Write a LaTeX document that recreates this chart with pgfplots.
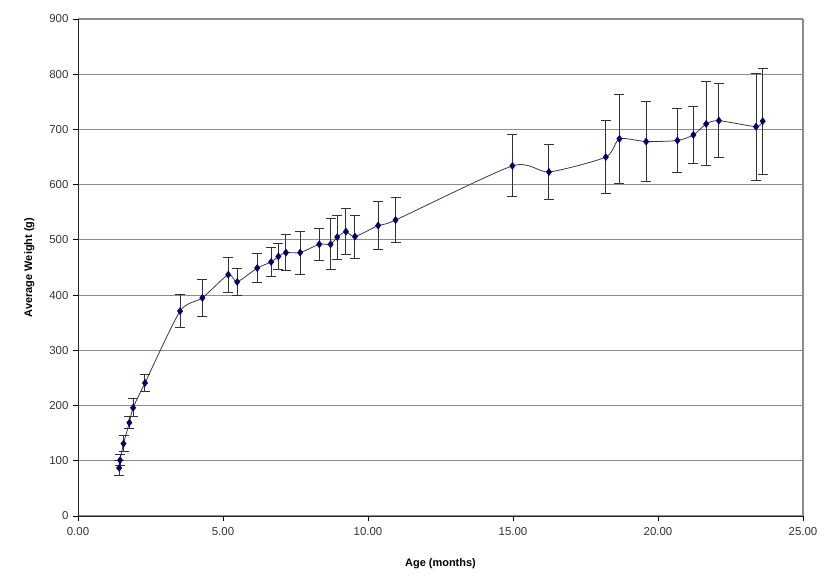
\documentclass[border=0pt]{standalone}
\usepackage{fontspec}
\setmainfont{Liberation Sans}
\usepackage{pgfplots}
\usepackage{pgfplotstable}
\pgfplotsset{compat=1.18}

\definecolor{ptblue}{RGB}{0,0,110}
\definecolor{lineblue}{RGB}{55,55,85}

% age (months), average weight (g), error
\pgfplotstableread{
x y e
1.42 87 13
1.45 101 10
1.57 131 14
1.77 169 11
1.90 196 16
2.31 241 16
3.52 371 30
4.29 395 34
5.18 437 32
5.49 424 25
6.18 449 27
6.66 460 26
6.91 470 23
7.17 477 33
7.66 477 39
8.32 492 29
8.71 492 46
8.94 505 40
9.24 515 42
9.55 506 39
10.35 526 43
10.95 536 40
14.98 634 56
16.24 623 49
18.20 650 66
18.67 683 80
19.59 678 72
20.67 680 58
21.22 690 51
21.66 710 76
22.10 716 67
23.38 705 97
23.61 715 96
}\weight

\begin{document}
\begin{tikzpicture}
\useasboundingbox (-78bp,-61bp) rectangle (755bp,516bp);
\begin{axis}[
    scale only axis,
    width=725bp, height=497bp,
    xmin=0, xmax=25, ymin=0, ymax=900,
    xtick={0,5,...,25},
    ytick={0,100,...,900},
    axis x line*=bottom, axis y line*=left,
    axis line style={black!85, line width=1pt},
    ymajorgrids,
    major grid style={black!45, line width=1.1pt},
    extra x ticks={25}, extra x tick labels={},
    extra x tick style={xmajorgrids, tick style={draw=none}},
    tick align=outside,
    tick style={black, line width=0.8pt},
    major tick length=5bp,
    ticklabel style={font=\fontsize{11.5}{13}\selectfont, text=black!80},
    /pgf/number format/assume math mode=true,
    xticklabel={\pgfmathprintnumber[fixed,fixed zerofill,precision=2]{\tick}},
    xticklabel style={yshift=-3bp},
    yticklabel style={/pgf/number format/fixed, xshift=-1bp},
    xlabel={\textbf{Age (months)}},
    ylabel={\textbf{Average Weight (g)}},
    label style={font=\fontsize{11}{13}\selectfont},
    xlabel style={yshift=-6bp},
    ylabel style={yshift=8bp},
    clip=false,
]
\addplot[lineblue, line width=0.8pt, smooth, tension=0.4] table[x=x, y=y] {\weight};
\addplot[only marks, mark=diamond*, mark size=3.6bp, mark options={fill=ptblue, draw=ptblue},
    error bars/.cd, y dir=both, y explicit,
    error bar style={black!80, line width=1pt},
    error mark options={rotate=90, mark size=5bp, black!80, line width=1pt}]
    table[x=x, y=y, y error=e] {\weight};
\end{axis}
\end{tikzpicture}
\end{document}
